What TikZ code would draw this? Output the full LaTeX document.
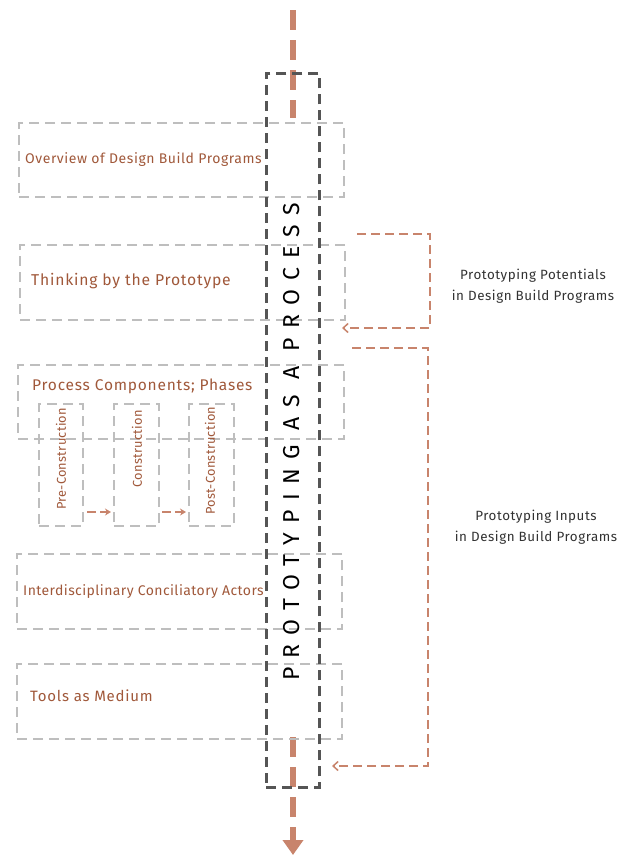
\documentclass[tikz,border=0pt]{standalone}
\usepackage{fontspec}
\setmainfont{Fira Sans}
\usetikzlibrary{arrows.meta}
\definecolor{rust}{RGB}{160,88,58}
\definecolor{clay}{RGB}{200,132,108}
\definecolor{boxgray}{RGB}{190,190,190}
\definecolor{coregray}{RGB}{85,85,85}
\definecolor{inkgray}{RGB}{50,50,50}
\tikzset{
  graybox/.style={draw=boxgray, line width=2pt, dash pattern=on 10pt off 6pt,
    anchor=north west, inner sep=0pt},
  corebox/.style={draw=coregray, line width=2.5pt, dash pattern=on 10pt off 6pt,
    anchor=north west, inner sep=0pt},
  lbl/.style={text=rust, anchor=west, inner sep=0pt},
  phase/.style={text=rust, rotate=90, inner sep=0pt,
    font=\fontsize{12.8}{15}\selectfont\addfontfeature{LetterSpace=2}},
  side/.style={text=inkgray, align=center, inner sep=0pt,
    font=\fontsize{13.4}{21}\selectfont\addfontfeature{LetterSpace=4}},
  flow/.style={draw=clay, line width=6pt, dash pattern=on 20pt off 10pt},
  link/.style={draw=clay, line width=2.5pt, dash pattern=on 9pt off 5pt,
    -{Straight Barb[length=5pt,width=9pt,line width=1.5pt]}},
  step arrow/.style={draw=clay, line width=2pt, dash pattern=on 9pt off 4pt,
    -{Stealth[length=6pt,width=7pt]}}
}
\begin{document}
\begin{tikzpicture}[x=1pt,y=-1pt]
\useasboundingbox (0,0) rectangle (625,855);

% main column
\coordinate (flowtop) at (293,10);
\coordinate (flowtopend) at (293,118);
\coordinate (flowbot) at (293,737);
\coordinate (flowtip) at (293,855);
\draw[flow] (flowtop) -- (flowtopend);
\draw[flow, -{Triangle[length=15pt,width=20pt]}] (flowbot) -- (flowtip);

% topic boxes
\node[graybox, minimum width=325pt, minimum height=74pt] (ovbox) at (18,122) {};
\node[graybox, minimum width=325pt, minimum height=75pt] (thbox) at (19,244) {};
\node[graybox, minimum width=326pt, minimum height=74pt] (pcbox) at (17,364) {};
\node[graybox, minimum width=325pt, minimum height=75pt] (idbox) at (16,553) {};
\node[graybox, minimum width=325pt, minimum height=75pt] (tlbox) at (16,663) {};

% phase boxes
\node[graybox, minimum width=44pt, minimum height=122pt] (prebox) at (38,403) {};
\node[graybox, minimum width=45pt, minimum height=122pt] (conbox) at (113,403) {};
\node[graybox, minimum width=45pt, minimum height=122pt] (postbox) at (188,403) {};

% central column
\node[corebox, minimum width=53pt, minimum height=714pt] (core) at (265,72) {};
\node[rotate=90, inner sep=0pt, text=black,
  font=\fontsize{23}{26}\selectfont\addfontfeature{LetterSpace=40}] (title) at (292,442)
  {PROTOTYPING AS A PROCESS};

% topic labels
\node[lbl, font=\fontsize{14}{17}\selectfont\addfontfeature{LetterSpace=4}] (ovtxt) at (25,160) {Overview of Design Build Programs};
\node[lbl, font=\fontsize{15.7}{18}\selectfont\addfontfeature{LetterSpace=5}] (thtxt) at (31,281) {Thinking by the Prototype};
\node[lbl, font=\fontsize{15.5}{18}\selectfont\addfontfeature{LetterSpace=5}] (pctxt) at (32,386) {Process Components; Phases};
\node[lbl, font=\fontsize{14}{17}\selectfont\addfontfeature{LetterSpace=3}] (idtxt) at (23,592) {Interdisciplinary Conciliatory Actors};
\node[lbl, font=\fontsize{15}{18}\selectfont\addfontfeature{LetterSpace=5}] (tltxt) at (30,696) {Tools as Medium};

% phase labels
\node[phase, anchor=west] (pretxt) at (61,510) {Pre-Construction};
\node[phase, anchor=east] (contxt) at (137,410) {Construction};
\node[phase, anchor=west] (posttxt) at (210,515) {Post-Construction};

% phase sequence
\coordinate (s1a) at (87,512);
\coordinate (s1b) at (111,512);
\coordinate (s2a) at (162,512);
\coordinate (s2b) at (186,512);
\draw[step arrow] (s1a) -- (s1b);
\draw[step arrow] (s2a) -- (s2b);

% feedback loops
\coordinate (potstart) at (357,234);
\coordinate (potcorner) at (430,234);
\coordinate (potend) at (342,328);
\draw[link] (potstart) -- (potcorner) |- (potend);
\coordinate (inpstart) at (352,348);
\coordinate (inpcorner) at (428,348);
\coordinate (inpend) at (332,766);
\draw[link] (inpstart) -- (inpcorner) |- (inpend);

\node[side] (pottxt) at (533,286) {Prototyping Potentials\\in Design Build Programs};
\node[side] (inptxt) at (536,527) {Prototyping Inputs\\in Design Build Programs};
\end{tikzpicture}
\end{document}
